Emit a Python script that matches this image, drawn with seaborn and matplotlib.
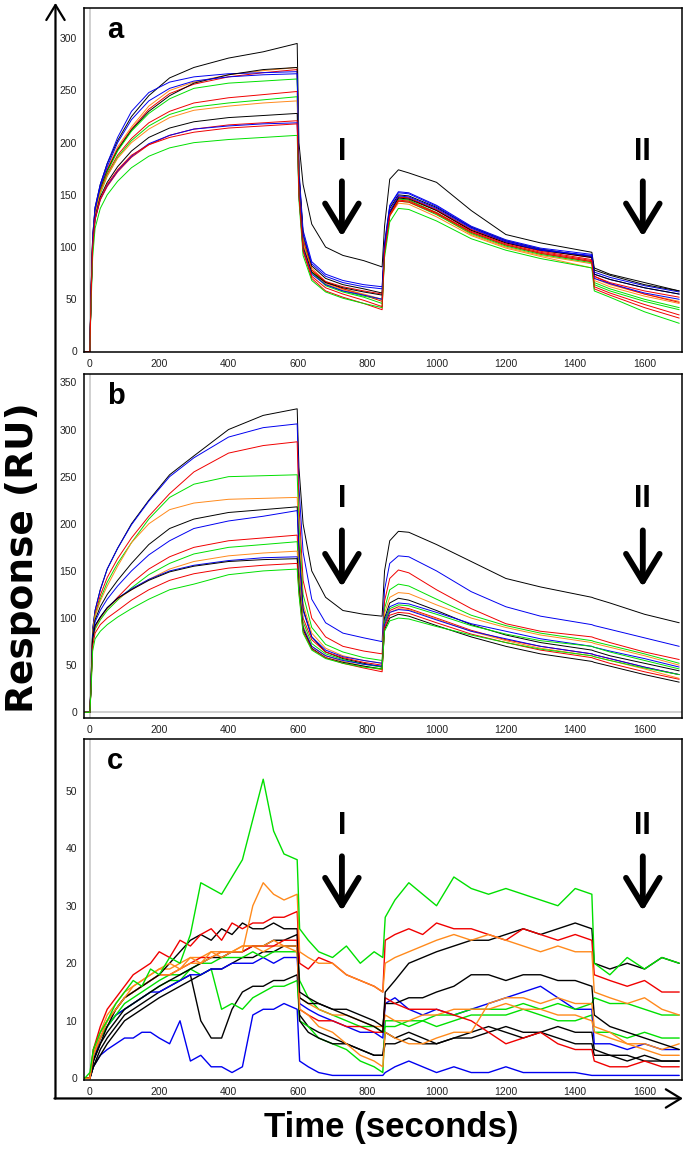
import pandas as pd
import matplotlib.pyplot as plt
import matplotlib.patches as mpatches
import seaborn as sns

# -------------------------------------------------------------
# data (RU vs seconds)
# -------------------------------------------------------------
time_ab = [-15, 0, 3, 8, 15, 30, 50, 80, 120, 170, 230, 300, 400, 500, 598,
           603, 615, 640, 680, 730, 790, 843,
           850, 865, 890, 920, 1000, 1100, 1200, 1300, 1448,
           1455, 1500, 1600, 1700]

# panel a
a_k1 = [0, 0, 55, 110, 138, 160, 180, 202, 225, 245, 262, 272, 281, 287, 295, 200, 160, 122, 100, 92, 87, 81, 120, 165, 174, 171, 162, 135, 112, 104, 95, 80, 74, 66, 58]
a_o1 = [0, 0, 52, 108, 135, 157, 175, 196, 215, 235, 250, 258, 265, 269, 272, 172, 112, 80, 67, 60, 55, 50, 98, 132, 146, 145, 132, 112, 100, 92, 84, 70, 64, 55, 48]
a_r1 = [0, 0, 50, 106, 134, 156, 174, 194, 213, 232, 247, 256, 263, 267, 270, 168, 108, 78, 66, 60, 54, 48, 97, 134, 148, 147, 135, 116, 104, 96, 88, 72, 65, 55, 47]
a_b1 = [0, 0, 54, 110, 138, 160, 180, 205, 230, 248, 258, 263, 266, 267, 268, 175, 116, 86, 74, 68, 64, 62, 104, 140, 153, 152, 140, 120, 107, 99, 93, 76, 71, 63, 57]
a_k2 = [0, 0, 50, 105, 133, 155, 173, 193, 212, 230, 245, 257, 265, 270, 272, 170, 112, 82, 70, 64, 60, 56, 100, 137, 150, 149, 138, 119, 106, 98, 91, 78, 73, 64, 58]
a_g1 = [0, 0, 48, 104, 132, 154, 172, 192, 211, 228, 242, 252, 257, 259, 261, 165, 105, 76, 63, 57, 52, 46, 96, 132, 146, 145, 133, 114, 102, 94, 86, 66, 60, 50, 42]
a_r2 = [0, 0, 50, 105, 132, 153, 170, 188, 204, 219, 230, 238, 243, 246, 249, 165, 106, 78, 67, 62, 58, 55, 98, 134, 148, 147, 136, 117, 105, 97, 90, 72, 66, 58, 52]
a_g2 = [0, 0, 48, 103, 130, 151, 168, 186, 202, 216, 227, 234, 238, 241, 244, 162, 104, 76, 64, 58, 53, 50, 95, 130, 144, 143, 131, 113, 101, 93, 85, 64, 58, 48, 40]
a_o2 = [0, 0, 50, 104, 131, 152, 168, 185, 200, 213, 224, 231, 235, 238, 240, 162, 104, 77, 65, 59, 54, 50, 96, 130, 142, 141, 129, 111, 99, 91, 80, 68, 62, 53, 46]
a_b2 = [0, 0, 52, 108, 136, 158, 177, 200, 222, 240, 252, 259, 263, 265, 266, 170, 112, 84, 72, 66, 62, 60, 102, 139, 152, 151, 139, 119, 106, 98, 91, 74, 69, 61, 55]
a_k3 = [0, 0, 48, 102, 128, 148, 162, 177, 192, 205, 214, 220, 224, 226, 228, 155, 100, 76, 66, 61, 57, 54, 97, 133, 147, 146, 135, 116, 104, 97, 90, 74, 69, 61, 55]
a_r3 = [0, 0, 46, 100, 126, 145, 158, 172, 186, 198, 207, 213, 217, 219, 221, 150, 96, 70, 58, 52, 46, 40, 94, 130, 144, 143, 132, 114, 102, 94, 86, 60, 54, 42, 32]
a_b3 = [0, 0, 47, 101, 127, 146, 159, 173, 187, 199, 207, 213, 216, 218, 219, 150, 98, 74, 64, 58, 54, 50, 98, 134, 149, 148, 137, 118, 105, 97, 92, 70, 65, 56, 50]
a_g3 = [0, 0, 40, 90, 118, 137, 150, 163, 176, 187, 195, 200, 203, 205, 207, 145, 92, 68, 57, 51, 46, 42, 90, 124, 137, 136, 125, 108, 97, 89, 80, 58, 52, 38, 27]
a_r4 = [0, 0, 46, 100, 127, 146, 160, 174, 188, 198, 205, 210, 214, 216, 218, 150, 97, 72, 61, 55, 49, 43, 95, 131, 145, 144, 133, 115, 103, 95, 87, 62, 56, 45, 35]
a_traces = [a_k1, a_o1, a_r1, a_b1, a_k2, a_g1, a_r2, a_g2, a_o2, a_b2, a_k3, a_r3, a_b3, a_g3, a_r4]
a_colors = ['black', 'orange', 'red', 'blue', 'black', 'green', 'red', 'green',
            'orange', 'blue', 'black', 'red', 'blue', 'green', 'red']

# panel b
b_k1 = [0, 0, 30, 88, 108, 130, 152, 174, 200, 225, 252, 272, 300, 315, 322, 260, 200, 150, 122, 108, 104, 102, 150, 182, 192, 191, 178, 160, 142, 133, 122, 121, 116, 104, 95]
b_b1 = [0, 0, 30, 88, 108, 130, 152, 174, 199, 224, 250, 270, 292, 302, 306, 240, 170, 120, 95, 84, 79, 75, 130, 158, 166, 165, 150, 128, 112, 102, 93, 92, 88, 79, 70]
b_r1 = [0, 0, 28, 85, 104, 124, 143, 163, 185, 208, 232, 255, 275, 283, 287, 220, 140, 100, 80, 70, 65, 62, 118, 142, 151, 148, 130, 110, 94, 86, 80, 79, 74, 64, 56]
b_g1 = [0, 0, 28, 84, 102, 120, 138, 158, 180, 205, 228, 242, 250, 251, 252, 200, 125, 90, 72, 64, 58, 55, 110, 130, 136, 134, 120, 103, 92, 84, 76, 75, 71, 62, 52]
b_o1 = [0, 0, 28, 84, 102, 118, 134, 155, 180, 200, 215, 222, 226, 227, 228, 185, 115, 84, 68, 60, 55, 52, 105, 122, 127, 126, 114, 100, 90, 82, 74, 73, 69, 60, 50]
b_k2 = [0, 0, 26, 82, 98, 112, 125, 140, 158, 178, 195, 205, 212, 215, 218, 175, 110, 80, 64, 57, 52, 48, 100, 116, 121, 119, 108, 93, 82, 74, 66, 65, 60, 52, 44]
b_b2 = [0, 0, 26, 80, 96, 108, 120, 134, 150, 167, 182, 195, 203, 208, 214, 170, 108, 80, 66, 59, 55, 52, 98, 112, 116, 115, 106, 94, 86, 78, 70, 69, 65, 57, 48]
b_r2 = [0, 0, 24, 76, 90, 100, 110, 122, 137, 152, 165, 175, 182, 185, 188, 150, 100, 77, 64, 58, 53, 50, 95, 108, 112, 110, 100, 87, 77, 70, 62, 61, 57, 48, 40]
b_g2 = [0, 0, 24, 75, 88, 98, 108, 119, 132, 146, 158, 168, 175, 178, 181, 145, 96, 73, 62, 56, 51, 48, 96, 110, 114, 113, 104, 92, 83, 76, 70, 69, 64, 55, 46]
b_o2 = [0, 0, 24, 76, 90, 100, 110, 120, 130, 141, 152, 160, 166, 169, 171, 140, 92, 70, 60, 54, 49, 45, 92, 106, 110, 109, 99, 86, 76, 68, 60, 59, 55, 46, 36]
b_b3 = [0, 0, 24, 78, 92, 101, 111, 121, 131, 141, 150, 156, 161, 164, 165, 135, 90, 70, 60, 55, 51, 49, 93, 106, 109, 108, 98, 86, 78, 70, 62, 61, 57, 48, 40]
b_k3 = [0, 0, 24, 78, 92, 101, 111, 121, 130, 140, 149, 155, 160, 162, 163, 132, 88, 68, 58, 53, 49, 46, 88, 100, 104, 102, 92, 80, 70, 62, 54, 53, 49, 40, 32]
b_r3 = [0, 0, 22, 70, 84, 93, 100, 108, 119, 130, 140, 147, 153, 156, 158, 128, 86, 67, 58, 52, 47, 43, 90, 103, 106, 105, 95, 83, 74, 66, 58, 57, 52, 43, 35]
b_g3 = [0, 0, 20, 65, 78, 86, 93, 101, 110, 120, 130, 136, 146, 150, 152, 125, 84, 66, 57, 52, 48, 46, 86, 97, 100, 99, 91, 82, 74, 67, 60, 59, 55, 47, 40]
b_traces = [b_k1, b_b1, b_r1, b_g1, b_o1, b_k2, b_b2, b_r2, b_g2, b_o2, b_b3, b_k3, b_r3, b_g3]
b_colors = ['black', 'blue', 'red', 'green', 'orange', 'black', 'blue', 'red',
            'green', 'orange', 'blue', 'black', 'red', 'green']

# panel c
time_c = [-15, 0, 10, 30, 50, 75, 100, 125, 150, 175, 200, 230, 260, 290, 320, 350, 380, 410, 440, 470, 500, 530, 560, 598,
          605, 630, 660, 700, 740, 780, 820, 845,
          852, 880, 920, 960, 1000, 1050, 1100, 1150, 1200, 1250, 1300, 1350, 1400, 1448,
          1455, 1500, 1550, 1600, 1650, 1700]
c_g1 = [0, 1, 5, 8, 10, 13, 15, 17, 16, 19, 18, 21, 20, 25, 34, 33, 32, 35, 38, 45, 52, 43, 39, 38, 26, 24, 22, 21, 23, 20, 22, 21, 28, 31, 34, 32, 30, 35, 33, 32, 33, 32, 31, 30, 33, 32, 20, 18, 21, 19, 21, 20]
c_o1 = [0, 0, 4, 7, 10, 12, 14, 16, 17, 18, 19, 20, 19, 21, 20, 22, 21, 22, 22, 30, 34, 32, 31, 32, 22, 21, 20, 20, 18, 17, 16, 15, 20, 21, 22, 23, 24, 25, 24, 25, 24, 23, 22, 23, 22, 22, 15, 14, 13, 14, 12, 11]
c_r1 = [0, 0, 5, 9, 12, 14, 16, 18, 19, 20, 22, 21, 24, 23, 25, 26, 24, 27, 26, 27, 27, 28, 28, 29, 20, 19, 21, 20, 18, 17, 16, 15, 24, 25, 26, 25, 27, 26, 26, 25, 24, 26, 25, 24, 25, 24, 18, 17, 16, 17, 15, 15]
c_k1 = [0, 0, 3, 6, 9, 12, 14, 15, 16, 17, 18, 20, 22, 24, 25, 24, 26, 25, 27, 26, 26, 27, 26, 26, 15, 14, 13, 12, 11, 10, 9, 8, 15, 17, 20, 21, 22, 23, 24, 24, 25, 26, 25, 26, 27, 26, 20, 19, 20, 19, 21, 20]
c_k2 = [0, 0, 2, 5, 7, 9, 11, 12, 13, 14, 15, 16, 17, 18, 10, 7, 7, 12, 15, 16, 16, 17, 17, 18, 11, 9, 8, 7, 6, 5, 4, 4, 8, 7, 8, 7, 6, 7, 8, 9, 8, 7, 8, 7, 6, 6, 4, 4, 3, 4, 3, 3]
c_b1 = [0, 0, 2, 4, 5, 6, 7, 7, 8, 8, 7, 6, 10, 3, 4, 2, 2, 1, 2, 11, 12, 12, 13, 12, 3, 2, 1, 0.5, 0.5, 0.5, 0.5, 0.5, 1, 2, 3, 2, 1, 2, 1, 1, 2, 1, 1, 1, 1, 0.5, 0.5, 0.5, 0.5, 0.5, 0.5, 0.5]
c_b2 = [0, 0, 3, 7, 9, 11, 12, 13, 14, 15, 15, 16, 17, 18, 18, 19, 19, 20, 20, 20, 21, 20, 21, 21, 13, 12, 11, 10, 9, 8, 8, 7, 13, 14, 12, 11, 12, 11, 12, 13, 14, 15, 16, 14, 12, 12, 6, 6, 5, 6, 5, 5]
c_g2 = [0, 0, 4, 7, 9, 11, 12, 13, 14, 15, 16, 17, 17, 19, 18, 19, 12, 13, 12, 14, 15, 16, 16, 17, 10, 9, 7, 6, 5, 3, 2, 1, 10, 10, 9, 10, 9, 10, 11, 11, 11, 12, 11, 10, 10, 11, 8, 8, 7, 8, 7, 7]
c_o2 = [0, 0, 5, 8, 10, 12, 14, 15, 16, 17, 18, 18, 19, 20, 20, 21, 22, 22, 23, 23, 23, 24, 23, 23, 12, 11, 9, 8, 6, 4, 3, 2, 8, 7, 6, 6, 7, 8, 8, 13, 14, 14, 13, 14, 13, 13, 9, 8, 6, 5, 4, 4]
c_k3 = [0, 0, 3, 6, 8, 10, 12, 13, 14, 15, 16, 17, 18, 19, 20, 21, 21, 22, 22, 23, 23, 24, 24, 25, 14, 13, 13, 12, 12, 11, 10, 9, 13, 13, 14, 14, 15, 16, 18, 18, 17, 18, 18, 17, 17, 16, 11, 9, 8, 7, 6, 5]
c_r2 = [0, 0, 4, 7, 10, 12, 14, 15, 16, 17, 18, 18, 19, 20, 21, 21, 22, 22, 22, 23, 23, 23, 24, 24, 12, 11, 10, 10, 9, 9, 8, 8, 14, 13, 12, 12, 12, 11, 10, 8, 6, 7, 8, 6, 5, 5, 3, 2, 2, 3, 2, 2]
c_k4 = [0, 0, 2, 4, 6, 8, 10, 11, 12, 13, 14, 15, 16, 17, 18, 19, 19, 20, 21, 21, 22, 22, 23, 23, 10, 8, 7, 6, 6, 5, 4, 4, 6, 6, 7, 6, 6, 7, 7, 8, 9, 8, 8, 9, 8, 8, 5, 4, 4, 3, 3, 3]
c_g3 = [0, 0, 4, 7, 9, 11, 13, 14, 15, 16, 17, 18, 18, 19, 20, 20, 21, 21, 21, 22, 21, 22, 22, 22, 17, 14, 12, 11, 10, 9, 9, 8, 9, 9, 10, 10, 11, 11, 12, 12, 12, 13, 12, 13, 12, 13, 14, 13, 13, 12, 11, 11]
c_o3 = [0, 0, 4, 8, 11, 13, 15, 16, 17, 18, 19, 19, 20, 21, 21, 22, 22, 22, 23, 23, 22, 23, 23, 22, 14, 13, 12, 11, 11, 10, 9, 9, 11, 10, 10, 11, 11, 12, 12, 12, 13, 12, 12, 11, 11, 10, 8, 7, 6, 6, 5, 6]
c_traces = [c_b1, c_k2, c_g2, c_k4, c_b2, c_g3, c_o3, c_k3, c_r2, c_o2, c_k1, c_r1, c_o1, c_g1]
c_colors = ['blue', 'black', 'green', 'black', 'blue', 'green', 'orange', 'black',
            'red', 'orange', 'black', 'red', 'orange', 'green']

line_colors = {'black': '#000000', 'blue': '#0000f0', 'red': '#f00000',
               'green': '#00e000', 'orange': '#ff8a1c'}

# -------------------------------------------------------------
sns.set_style('white')
plt.rcParams['font.family'] = ['Liberation Sans', 'DejaVu Sans']
plt.rcParams['text.color'] = 'black'


def panel_frame(times, traces, colors):
    parts = []
    for i, vals in enumerate(traces):
        parts.append(pd.DataFrame({'time': times, 'response': vals, 'trace': f'{colors[i]}_{i}'}))
    return pd.concat(parts, ignore_index=True)


fig = plt.figure(figsize=(6.85, 11.53), dpi=100)
ax_a = fig.add_axes([0.1226, 0.6947, 0.873, 0.2984])
ax_b = fig.add_axes([0.1226, 0.3773, 0.873, 0.2984])
ax_c = fig.add_axes([0.1226, 0.0633, 0.873, 0.2958])

panels = [
    (ax_a, time_ab, a_traces, a_colors, 'a', (-0.5, 329), range(0, 301, 50), (191, 163, 110), 0.7),
    (ax_b, time_ab, b_traces, b_colors, 'b', (-6, 359), range(0, 351, 50), (226, 193, 133), 0.7),
    (ax_c, time_c, c_traces, c_colors, 'c', (-0.3, 59), range(0, 51, 10), (43.8, 38.6, 29.1), 1.0),
]

for ax, times, traces, colors, letter, ylim, yticks, arr, lw in panels:
    df = panel_frame(times, traces, colors)
    pal = {f'{c}_{i}': line_colors[c] for i, c in enumerate(colors)}
    ax.axvline(0, color='#c8c8c8', lw=1.2, zorder=0)
    if letter == 'b':
        ax.axhline(0, color='#c8c8c8', lw=1.2, zorder=0)
    sns.lineplot(data=df, x='time', y='response', hue='trace', palette=pal,
                 estimator=None, sort=False, legend=False, lw=lw, ax=ax)
    ax.set_xlim(-17, 1708)
    ax.set_ylim(*ylim)
    ax.set_xticks(range(0, 1601, 200))
    ax.set_yticks(list(yticks))
    ax.set_xlabel('')
    ax.set_ylabel('')
    ax.tick_params(labelsize=7.5, length=2, width=0.6, pad=3, colors='#222222')
    for s in ax.spines.values():
        s.set_color('black')
        s.set_linewidth(1.1)
    ax.text(0.0385, 0.912, letter, transform=ax.transAxes, fontsize=21,
            fontweight='bold', va='baseline', ha='left')
    # injection markers I and II
    for t, lab in [(727, 'I'), (1595, 'II')]:
        ax.text(t, arr[0], lab, fontsize=22, fontweight='bold', ha='center', va='center')
        ax.annotate('', xy=(t, arr[2]), xytext=(t, arr[1]),
                    arrowprops=dict(arrowstyle='->,head_length=0.9,head_width=0.55',
                                    lw=4.2, color='black', mutation_scale=22,
                                    shrinkA=0, shrinkB=0))

# outer axis arrows and big labels
fig.add_artist(mpatches.FancyArrowPatch((0.081, 0.0473), (0.081, 0.9975), transform=fig.transFigure,
                                        arrowstyle='->,head_length=0.9,head_width=0.55',
                                        mutation_scale=12, lw=1.6, color='black',
                                        shrinkA=0, shrinkB=0))
fig.add_artist(mpatches.FancyArrowPatch((0.0795, 0.0473), (0.997, 0.0473), transform=fig.transFigure,
                                        arrowstyle='->,head_length=0.9,head_width=0.55',
                                        mutation_scale=12, lw=1.6, color='black',
                                        shrinkA=0, shrinkB=0))
fig.text(0.034, 0.516, 'Response (RU)', rotation=90, fontsize=27, fontweight='bold',
         ha='center', va='center', family=['DejaVu Sans'])
fig.text(0.571, 0.0217, 'Time (seconds)', fontsize=25, fontweight='bold',
         ha='center', va='center')

fig.savefig('out.png', dpi=100)
